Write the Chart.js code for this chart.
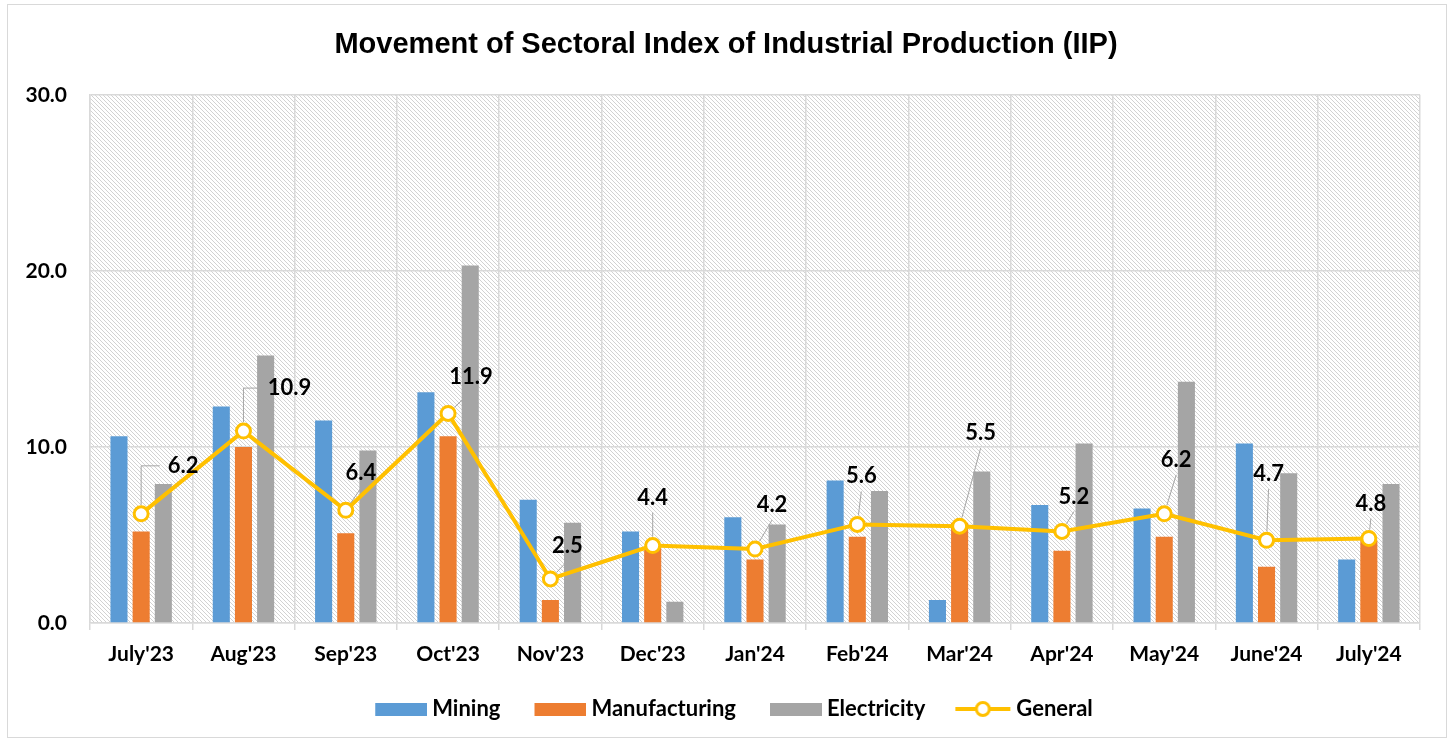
<!DOCTYPE html>
<html>
<head>
<meta charset="utf-8">
<title>Movement of Sectoral Index of Industrial Production (IIP)</title>
<script src="https://cdn.jsdelivr.net/npm/chart.js@4.4.1/dist/chart.umd.min.js"></script>
<style>
  html, body { margin: 0; padding: 0; background: #fff; }
</style>
</head>
<body>
<canvas id="iipChart" width="1452" height="740"></canvas>
<script>
const months = ["July'23", "Aug'23", "Sep'23", "Oct'23", "Nov'23", "Dec'23", "Jan'24",
  "Feb'24", "Mar'24", "Apr'24", "May'24", "June'24", "July'24"];
const mining = [10.6, 12.3, 11.5, 13.1, 7.0, 5.2, 6.0, 8.1, 1.3, 6.7, 6.5, 10.2, 3.6];
const manufacturing = [5.2, 10.0, 5.1, 10.6, 1.3, 4.3, 3.6, 4.9, 5.7, 4.1, 4.9, 3.2, 4.7];
const electricity = [7.9, 15.2, 9.8, 20.3, 5.7, 1.2, 5.6, 7.5, 8.6, 10.2, 13.7, 8.5, 7.9];
const general = [6.2, 10.9, 6.4, 11.9, 2.5, 4.4, 4.2, 5.6, 5.5, 5.2, 6.2, 4.7, 4.8];
const yTicks = [0, 10, 20, 30];

// where the General labels sit, relative to their marker (px)
const labelShift = [[42, -48], [46, -43], [15, -37], [23, -37], [17, -33], [0, -48], [17, -44],
  [4, -48], [21, -93], [12, -35], [12, -54], [2, -66], [2, -35]];

const BLUE = '#5B9BD5', ORANGE = '#ED7D31', GREY = '#A5A5A5', GOLD = '#FFC000';
const labelFont = 'Lato';

// hatched plot background
function hatch() {
  const c = document.createElement('canvas');
  c.width = 4; c.height = 4;
  const g = c.getContext('2d');
  g.fillStyle = '#fff';
  g.fillRect(0, 0, 4, 4);
  g.fillStyle = '#d2d2d2';
  for (let i = 0; i < 4; i++) g.fillRect(i, i, 1, 1);
  return c;
}

// legend swatches: 74px wide, transparent on the left so they sit close to the text
function boxImg(color) {
  const c = document.createElement('canvas');
  c.width = 74; c.height = 13;
  const g = c.getContext('2d');
  g.fillStyle = color;
  g.fillRect(22, 0, 52, 13);
  return c;
}

function lineImg() {
  const c = document.createElement('canvas');
  c.width = 74; c.height = 20;
  const g = c.getContext('2d');
  g.strokeStyle = GOLD;
  g.lineWidth = 4;
  g.beginPath(); g.moveTo(18, 10); g.lineTo(73, 10); g.stroke();
  g.fillStyle = '#fff';
  g.lineWidth = 3;
  g.beginPath(); g.arc(45.5, 10, 6.5, 0, Math.PI * 2); g.fill(); g.stroke();
  return c;
}

const legendImgs = [boxImg(BLUE), boxImg(ORANGE), boxImg(GREY), lineImg()];

const frame = {
  id: 'frame',
  beforeDraw(chart) {
    const { ctx, chartArea: a } = chart;
    ctx.save();
    ctx.fillStyle = '#fff';
    ctx.fillRect(0, 0, chart.width, chart.height);
    ctx.strokeStyle = '#d9d9d9';
    ctx.lineWidth = 1;
    ctx.strokeRect(7.5, 4.5, 1439, 733);
    ctx.fillStyle = ctx.createPattern(hatch(), 'repeat');
    ctx.fillRect(a.left, a.top, a.right - a.left, a.bottom - a.top);
    ctx.restore();
  }
};

const generalLabels = {
  id: 'generalLabels',
  afterDatasetsDraw(chart) {
    const { ctx } = chart;
    const meta = chart.getDatasetMeta(3);
    ctx.save();
    ctx.font = 'bold 22px ' + labelFont;
    ctx.textAlign = 'center';
    ctx.textBaseline = 'middle';
    meta.data.forEach((pt, i) => {
      const [dx, dy] = labelShift[i];
      const cx = pt.x + dx, cy = pt.y + dy;
      const txt = general[i].toFixed(1);
      const w = ctx.measureText(txt).width;
      ctx.strokeStyle = '#a6a6a6';
      ctx.lineWidth = 1;
      ctx.beginPath();
      if (dx > 30) {
        ctx.moveTo(pt.x, pt.y - 9);
        ctx.lineTo(pt.x, cy);
        ctx.lineTo(cx - w / 2 - 8, cy);
      } else {
        const ex = cx, ey = cy + 15;
        const len = Math.hypot(ex - pt.x, ey - pt.y);
        if (len > 12) {
          ctx.moveTo(pt.x + (ex - pt.x) * 9 / len, pt.y + (ey - pt.y) * 9 / len);
          ctx.lineTo(ex, ey);
        }
      }
      ctx.stroke();
      ctx.fillStyle = '#000';
      ctx.fillText(txt, cx, cy);
    });
    ctx.restore();
  }
};

const ctx = document.getElementById('iipChart').getContext('2d');
const iipChart = new Chart(ctx, {
  type: 'bar',
  data: {
    labels: months,
    datasets: [{
      label: 'Mining', data: mining, backgroundColor: BLUE, order: 1,
      categoryPercentage: 0.65, barPercentage: 0.77
    }, {
      label: 'Manufacturing', data: manufacturing, backgroundColor: ORANGE, order: 1,
      categoryPercentage: 0.65, barPercentage: 0.77
    }, {
      label: 'Electricity', data: electricity, backgroundColor: GREY, order: 1,
      categoryPercentage: 0.65, barPercentage: 0.77
    }, {
      type: 'line', label: 'General', data: general, order: 0,
      borderColor: GOLD, borderWidth: 4, backgroundColor: '#fff',
      pointRadius: 7, pointBorderWidth: 3, pointBackgroundColor: '#fff', pointBorderColor: GOLD,
      tension: 0
    }]
  },
  options: {
    responsive: false,
    animation: false,
    layout: { padding: { left: 0, right: 0, top: 0, bottom: 10 } },
    plugins: {
      title: {
        display: true,
        text: 'Movement of Sectoral Index of Industrial Production (IIP)',
        color: '#000',
        font: { family: 'Liberation Sans', size: 29, weight: 'bold' },
        padding: { top: 28, bottom: 32 }
      },
      legend: {
        position: 'bottom',
        labels: {
          usePointStyle: true,
          pointStyleWidth: 62,
          padding: 18,
          color: '#000',
          font: { family: labelFont, size: 22, weight: 'bold' },
          generateLabels: chart => chart.data.datasets.map((ds, i) => ({
            text: ds.label, pointStyle: legendImgs[i], datasetIndex: i,
            fontColor: '#000', hidden: false, lineWidth: 0
          }))
        }
      },
      tooltip: { enabled: false }
    },
    scales: {
      x: {
        afterFit: s => { s.height = 57; },
        grid: { color: '#d9d9d9', lineWidth: 1.5, tickLength: 7, offset: true },
        border: { color: '#d9d9d9', width: 1.5 },
        ticks: { color: '#000', padding: 12, font: { family: labelFont, size: 21, weight: 'bold' } }
      },
      y: {
        min: 0, max: 30,
        afterFit: s => { s.width = 90; },
        afterBuildTicks: s => { s.ticks = yTicks.map(v => ({ value: v })); },
        grid: { color: '#d9d9d9', lineWidth: 1.5, tickLength: 0 },
        border: { color: '#d9d9d9', width: 1.5 },
        ticks: {
          color: '#000', padding: 23,
          font: { family: labelFont, size: 21, weight: 'bold' },
          callback: v => v.toFixed(1)
        }
      },
      // empty right margin
      yRight: {
        position: 'right', min: 0, max: 30,
        afterFit: s => { s.width = 32; },
        grid: { drawOnChartArea: false, display: false },
        border: { display: false },
        ticks: { display: false }
      }
    }
  },
  plugins: [frame, generalLabels]
});
</script>
</body>
</html>
